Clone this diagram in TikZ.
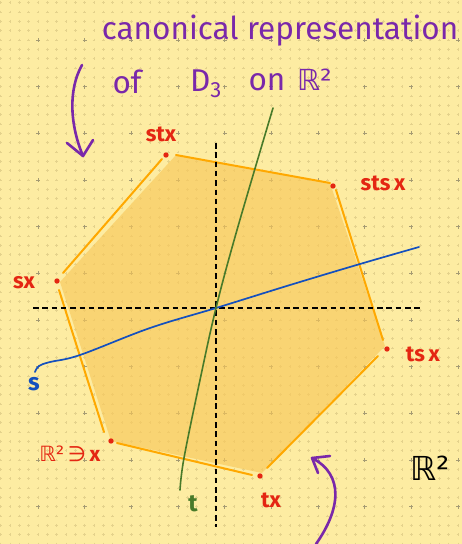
\documentclass[tikz,border=0pt]{standalone}
\usepackage{fontspec}
\setmainfont{Fira Sans}
\newfontfamily\symf{DejaVu Sans}
\definecolor{bg}{RGB}{253,236,162}
\definecolor{hexfill}{RGB}{248,200,90}
\definecolor{hexline}{RGB}{255,168,0}
\definecolor{ptred}{RGB}{228,38,18}
\definecolor{purp}{RGB}{122,40,170}
\definecolor{sblue}{RGB}{20,80,190}
\definecolor{tgreen}{RGB}{72,122,42}
\definecolor{minordot}{RGB}{228,210,140}
\definecolor{majordot}{RGB}{165,155,115}
\begin{document}
\begin{tikzpicture}[x=1pt,y=-1pt,
  edge/.style={hexline,line width=2pt,line cap=round},
  ptdot/.style={ptred},
  lbl/.style={ptred,font=\fontsize{22}{24}\selectfont\bfseries,inner sep=0pt},
  axis/.style={black,line width=1.1pt,dash pattern=on 5.5pt off 3.8pt},
  purparrow/.style={purp,line width=2.6pt,line cap=round,line join=round},
  title/.style={purp,font=\fontsize{31.5}{34}\selectfont,inner sep=0pt}]
\fill[bg] (0,0) rectangle (462,544);
\useasboundingbox (0,0) rectangle (462,544);
% dot grid
\foreach \i in {0,...,49}{
  \foreach \j in {0,...,58}{
    \draw[minordot,line width=0.7pt] ({0.67+\i*9.333-1.4},{2.67+\j*9.333}) -- ++(2.8,0)
      ({0.67+\i*9.333},{2.67+\j*9.333-1.4}) -- ++(0,2.8);
  }}
\foreach \i in {0,...,9}{
  \foreach \j in {0,...,10}{
    \draw[majordot,line width=0.9pt] ({38+\i*46.667-2},{40+\j*46.667}) -- ++(4,0)
      ({38+\i*46.667},{40+\j*46.667-2}) -- ++(0,4);
  }}
% vertices
\coordinate (vstx) at (166,155);
\coordinate (vstsx) at (333,186);
\coordinate (vtsx) at (387,349);
\coordinate (vtx) at (260,476);
\coordinate (vx) at (111,441);
\coordinate (vsx) at (57,281);
% fill
\fill[hexfill,opacity=0.65] (176,155) -- (330,183) -- (385,346) -- (262,473) -- (111,441) -- (60,282) -- cycle;
% edges
\coordinate (e1a) at (176,155); \coordinate (e1b) at (330,183);
\coordinate (e2a) at (336,190); \coordinate (e2b) at (383,340);
\coordinate (e3a) at (378,356); \coordinate (e3b) at (267,468);
\coordinate (e4a) at (252,475); \coordinate (e4b) at (117,443);
\coordinate (e5a) at (104,432); \coordinate (e5b) at (59,290);
\coordinate (e6a) at (63,273); \coordinate (e6b) at (162,159);
\draw[edge] (e1a) -- (e1b);
\draw[edge] (e2a) -- (e2b);
\draw[edge] (e3a) -- (e3b);
\draw[edge] (e4a) -- (e4b);
\draw[edge] (e5a) -- (e5b);
\draw[edge] (e6a) -- (e6b);
% axes
\coordinate (hxl) at (33,308); \coordinate (hxr) at (423,308);
\coordinate (vyt) at (216,143); \coordinate (vyb) at (216,527);
\draw[axis] (hxl) -- (hxr);
\draw[axis] (vyt) -- (vyb);
% lines s and t
\draw[sblue,line width=1.7pt,line cap=round] plot[smooth,tension=0.6] coordinates {(35,372) (39,366) (50,362) (80,355) (150,328) (216,308) (290,285) (360,264) (419,247)};
\draw[tgreen,line width=1.6pt,line cap=round] plot[smooth,tension=0.6] coordinates {(273,108) (237,230) (216,308) (200,380) (184,458) (180,490)};
% points
\foreach \v in {vstx,vstsx,vtsx,vtx,vx,vsx} \fill[ptdot] (\v) circle (2.7);
% labels
\node[lbl] (lstx) at (161,134) {stx};
\node[lbl] (lstsx) at (383,183) {sts\,x};
\node[lbl] (lsx) at (24,283) {sx};
\node[lbl] (ltsx) at (423,354) {ts\,x};
\node[lbl,font=\fontsize{21}{23}\selectfont] (lx) at (70,454) {{\symf ℝ²}\,{\symf ∋}\,\textbf{x}};
\node[lbl] (ltx) at (271,500) {tx};
\node[lbl,text=tgreen,font=\fontsize{24}{26}\selectfont\bfseries] (lt) at (193,504) {t};
\node[lbl,text=sblue,font=\fontsize{24}{26}\selectfont\bfseries] (ls) at (34,384) {s};
\node[inner sep=0pt,font=\symf\fontsize{33}{35}\selectfont] (lR) at (430,468) {ℝ²};
% title
\node[title] (t1) at (280,31) {canonical representation};
\node[title] (t2a) at (127,82) {of};
\node[title] (t2b) at (206,84) {D\textsubscript{3}};
\node[title] (t2c) at (267,82) {on};
\node[title,font=\symf\fontsize{29}{32}\selectfont] (t2d) at (315,80) {ℝ²};
% purple arrows
\coordinate (a1s) at (82,65); \coordinate (a1e) at (83,156);
\coordinate (a1l) at (67,143); \coordinate (a1r) at (93,140);
\draw[purparrow] (a1s) .. controls (68,90) and (70,125) .. (a1e);
\draw[purparrow] (a1l) -- (a1e) -- (a1r);
\coordinate (a2s) at (316,544); \coordinate (a2e) at (312,458);
\coordinate (a2l) at (330,456); \coordinate (a2r) at (318,473);
\draw[purparrow] (a2s) .. controls (340,510) and (345,475) .. (a2e);
\draw[purparrow] (a2l) -- (a2e) -- (a2r);
\end{tikzpicture}
\end{document}
